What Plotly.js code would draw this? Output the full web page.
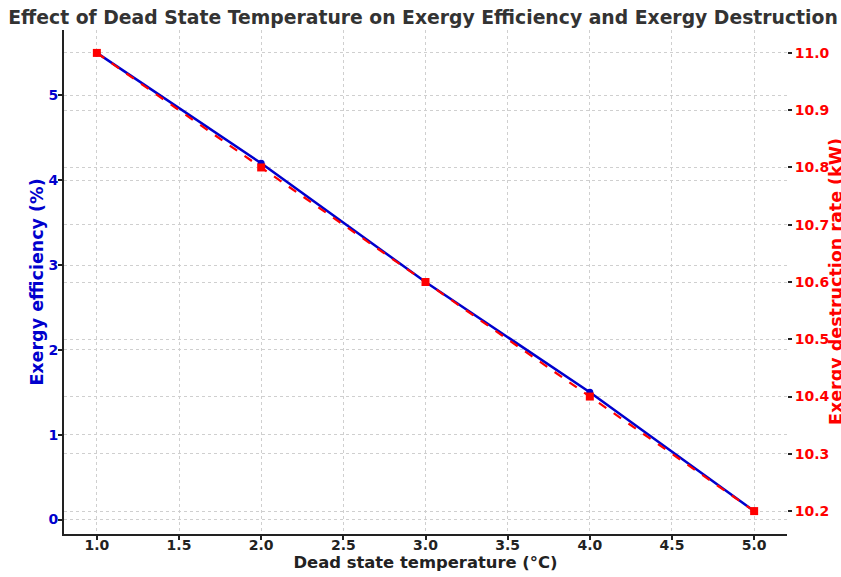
<!DOCTYPE html>
<html><head><meta charset="utf-8">
<script src="https://cdn.plot.ly/plotly-3.0.1.min.js"></script>
<style>html,body{margin:0;padding:0;background:#fff}</style>
</head><body>
<div id="chart" style="width:841px;height:577px"></div>
<script>
const temperature = [1.0, 2.0, 3.0, 4.0, 5.0];
const exergyEfficiency = [5.5, 4.2, 2.8, 1.5, 0.1];
const exergyDestruction = [11.0, 10.8, 10.6, 10.4, 10.2];
const xTicks = [1.0, 1.5, 2.0, 2.5, 3.0, 3.5, 4.0, 4.5, 5.0];
const leftTicks = [0, 1, 2, 3, 4, 5];
const rightTicks = [10.2, 10.3, 10.4, 10.5, 10.6, 10.7, 10.8, 10.9, 11.0];

const F = "DejaVu Sans, sans-serif";
const BLUE = '#0000cd';
const RED = '#ff0000';
const traces = [
  {x: temperature, y: exergyEfficiency, type: 'scatter', mode: 'lines+markers',
   line: {color: BLUE, width: 2.5}, marker: {symbol: 'circle', size: 7, color: BLUE},
   yaxis: 'y', showlegend: false},
  {x: temperature, y: exergyDestruction, type: 'scatter', mode: 'lines+markers',
   line: {color: RED, width: 2.2, dash: 'dash'}, marker: {symbol: 'square', size: 8, color: RED},
   yaxis: 'y2', showlegend: false}
];
const grid = {showgrid: true, gridcolor: '#cfcfcf', griddash: 'dot', gridwidth: 1};
const W = 841, ML = 64, MR = 54;
const layout = {
  width: W, height: 577,
  margin: {l: ML, r: MR, t: 30, b: 43},
  paper_bgcolor: '#fff', plot_bgcolor: '#fff',
  font: {family: F, size: 14, color: '#222'},
  title: {text: '<b>Effect of Dead State Temperature on Exergy Efficiency and Exergy Destruction</b>',
          font: {family: F, size: 18.8, color: '#333'}, x: 0.503, xanchor: 'center', y: 0.97, yanchor: 'middle'},
  xaxis: Object.assign({range: [0.8, 5.2], tickvals: xTicks, ticktext: xTicks.map(v => '<b>' + v.toFixed(1) + '</b>'),
          ticks: 'outside', ticklen: 4, tickwidth: 2, tickcolor: '#222', ticklabelstandoff: -7,
          showline: true, linecolor: '#222', linewidth: 2, zeroline: false,
          tickfont: {family: F, size: 14, color: '#222'},
          title: {text: '<b>Dead state temperature (°C)</b>', font: {family: F, size: 16.4, color: '#222'}, standoff: 3}}, grid),
  yaxis: Object.assign({range: [-0.17, 5.77], tickvals: leftTicks, ticktext: leftTicks.map(v => '<b>' + v + '</b>'),
          ticks: 'outside', ticklen: 4, tickwidth: 2, tickcolor: '#222', ticklabelstandoff: -3,
          showline: true, linecolor: '#222', linewidth: 2, zeroline: false,
          tickfont: {family: F, size: 14, color: BLUE},
          title: {text: '<b>Exergy efficiency (%)</b>', font: {family: F, size: 17.5, color: BLUE}, standoff: 0}}, grid),
  yaxis2: Object.assign({range: [10.16, 11.04], overlaying: 'y', side: 'right',
           tickvals: rightTicks, ticktext: rightTicks.map(v => '<b>' + v.toFixed(1) + '</b>'),
           ticks: 'outside', ticklen: 4, tickwidth: 2, tickcolor: '#222',
           showline: false, zeroline: false,
           tickfont: {family: F, size: 14, color: RED}}, grid),
  annotations: [{
    text: '<b>Exergy destruction rate (kW)</b>', textangle: -90, showarrow: false,
    xref: 'paper', yref: 'paper', x: (836 - ML) / (W - ML - MR), y: 0.5,
    xanchor: 'center', yanchor: 'middle',
    font: {family: F, size: 17.5, color: RED}
  }]
};
Plotly.newPlot('chart', traces, layout, {displayModeBar: false, staticPlot: true});
</script>
</body></html>
